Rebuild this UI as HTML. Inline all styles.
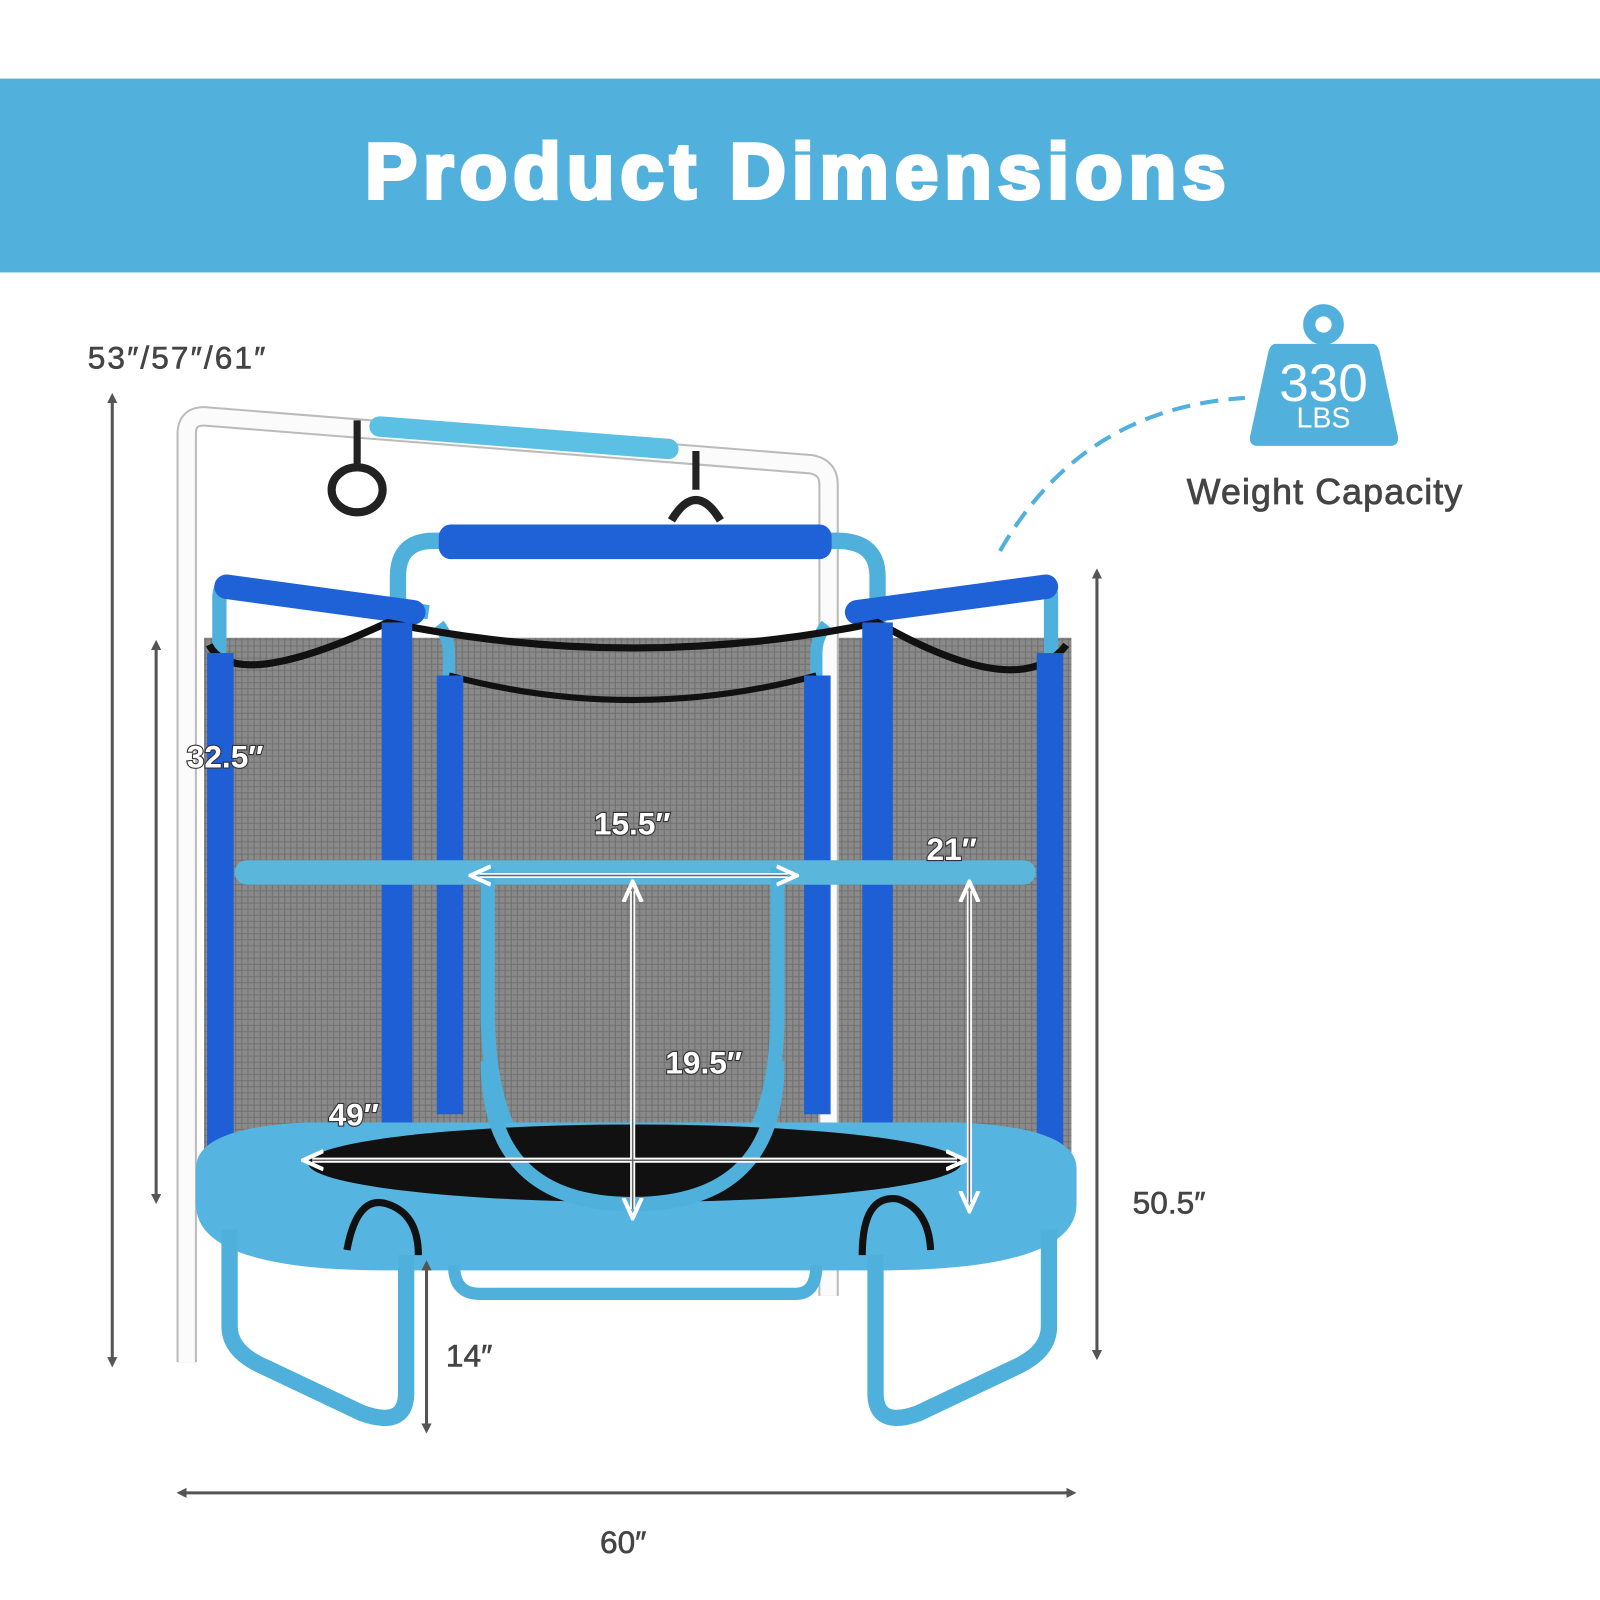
<!DOCTYPE html>
<html><head><style>
html,body{margin:0;padding:0;background:#fff;}
svg{display:block}
</style></head><body>
<svg width="1600" height="1600" viewBox="0 0 1568 1568" xmlns="http://www.w3.org/2000/svg" font-family="Liberation Sans, sans-serif">
<defs>
<marker id="a" markerWidth="10" markerHeight="10" refX="5" refY="5" orient="auto-start-reverse" markerUnits="userSpaceOnUse"><path d="M0,0 L10,5 L0,10 z" fill="#555"/></marker>
<marker id="w" markerWidth="22" markerHeight="22" refX="11" refY="11" orient="auto-start-reverse" markerUnits="userSpaceOnUse"><path d="M0,2 L20,11 L0,20" fill="none" stroke="#fff" stroke-width="4"/></marker>
<pattern id="net" width="6" height="6" patternUnits="userSpaceOnUse"><rect width="6" height="6" fill="#8a8a8a"/><path d="M0,3H6M3,0V6" stroke="#6f6f6f" stroke-width="1"/></pattern>
</defs>
<rect x="0" y="77" width="1568" height="190" fill="#52b0dc"/>
<text x="783" y="194" text-anchor="middle" font-size="76" font-weight="900" fill="#fff" letter-spacing="7" stroke="#fff" stroke-width="4" textLength="850" lengthAdjust="spacing">Product Dimensions</text>

<path d="M980,540 Q1060,400 1220,390" fill="none" stroke="#52b0dc" stroke-width="4" stroke-dasharray="18,10"/>
<circle cx="1297" cy="318" r="20" fill="#52b0dc"/><circle cx="1297" cy="318" r="8" fill="#fff"/>
<path d="M1250,337 H1345 Q1350,337 1352,345 L1370,428 Q1371,437 1362,437 H1233 Q1224,437 1225,428 L1243,345 Q1245,337 1250,337 z" fill="#52b0dc"/>
<text x="1297" y="393" text-anchor="middle" font-size="52" fill="#fff">330</text>
<text x="1297" y="419" text-anchor="middle" font-size="28" fill="#fff">LBS</text>
<text x="1298" y="494" text-anchor="middle" font-size="35" fill="#444" stroke="#444" stroke-width="0.8" textLength="270" lengthAdjust="spacing">Weight Capacity</text>

<rect x="200" y="625" width="850" height="515" fill="url(#net)"/>
<path d="M183,1335 V425 Q183,408 200,408 L795,455 Q812,458 812,475 V1270" fill="none" stroke="#bbb" stroke-width="20"/>
<path d="M183,1335 V425 Q183,408 200,408 L795,455 Q812,458 812,475 V1270" fill="none" stroke="#fbfbfb" stroke-width="16"/>
<path d="M372,418 L655,440" stroke="#5cc0e4" stroke-width="20" stroke-linecap="round"/>
<line x1="350" y1="412" x2="350" y2="455" stroke="#222" stroke-width="7"/>
<ellipse cx="350" cy="480" rx="25" ry="22" fill="none" stroke="#222" stroke-width="8"/>
<line x1="682" y1="442" x2="682" y2="480" stroke="#222" stroke-width="7"/>
<path d="M658,510 Q682,470 706,510" fill="none" stroke="#222" stroke-width="8"/>
<path d="M390,620 V565 Q390,530 425,530 H820 Q860,530 860,565 V620" fill="none" stroke="#4fb0dc" stroke-width="16"/>
<path d="M215,640 V585 Q215,570 232,572 L420,600 M1030,640 V585 Q1030,570 1013,572 L840,600" fill="none" stroke="#4fb0dc" stroke-width="14"/>
<path d="M440,665 V640 Q440,625 430,612 M800,665 V640 Q800,625 810,612" fill="none" stroke="#4fb0dc" stroke-width="12"/>
<rect x="430" y="514" width="385" height="34" rx="12" fill="#1f62d8"/>
<path d="M222,575 L405,600 M1025,575 L840,600" stroke="#1f62d8" stroke-width="24" stroke-linecap="round"/>
<path d="M205,632 Q230,680 380,610 Q620,660 860,610 Q1000,690 1045,632" fill="none" stroke="#111" stroke-width="7"/>
<path d="M440,662 Q620,710 800,662" fill="none" stroke="#111" stroke-width="6"/>
<g fill="#1f5fd6">
<rect x="203" y="640" width="26" height="500"/>
<rect x="374" y="610" width="30" height="560"/>
<rect x="428" y="662" width="26" height="430"/>
<rect x="788" y="662" width="26" height="430"/>
<rect x="845" y="610" width="30" height="560"/>
<rect x="1016" y="640" width="26" height="500"/>
</g>
<rect x="230" y="843" width="785" height="24" rx="12" fill="#5bb6dc"/>
<path d="M478,850 V990 Q478,1180 620,1180 Q762,1180 762,990 V850" fill="none" stroke="#4fb0dc" stroke-width="14"/>
<path d="M192,1145 Q192,1105 300,1100 H940 Q1055,1105 1055,1145 V1180 Q1055,1245 860,1245 H380 Q192,1245 192,1180 z" fill="#55b5e0"/>
<ellipse cx="622" cy="1140" rx="320" ry="38" fill="#111"/>
<path d="M478,1040 Q478,1180 620,1180 Q762,1180 762,1040" fill="none" stroke="#4fb0dc" stroke-width="14"/>
<path d="M225,1205 V1300 Q225,1325 260,1340 L355,1385 Q398,1400 398,1365 V1230" fill="none" stroke="#4fb0dc" stroke-width="16"/>
<path d="M1028,1205 V1300 Q1028,1325 995,1340 L900,1385 Q858,1400 858,1365 V1230" fill="none" stroke="#4fb0dc" stroke-width="16"/>
<path d="M445,1240 Q445,1268 470,1268 H780 Q800,1268 800,1240" fill="none" stroke="#4fb0dc" stroke-width="12"/>
<path d="M340,1225 Q350,1170 380,1180 Q410,1190 410,1230 M845,1230 Q845,1170 880,1175 Q910,1185 912,1225" fill="none" stroke="#111" stroke-width="7"/>
<g stroke="#fff" stroke-width="5" marker-start="url(#w)" marker-end="url(#w)">
<line x1="470" y1="858" x2="772" y2="858"/>
<line x1="620" y1="873" x2="620" y2="1185"/>
<line x1="950" y1="873" x2="950" y2="1178"/>
<line x1="306" y1="1137" x2="938" y2="1137"/>
</g>
<g stroke="#666" stroke-width="1.5" fill="none">
<line x1="470" y1="858" x2="772" y2="858"/>
<line x1="620" y1="873" x2="620" y2="1185"/>
<line x1="950" y1="873" x2="950" y2="1178"/>
<line x1="306" y1="1137" x2="938" y2="1137"/>
</g>
<g font-size="31" font-weight="bold" fill="#fff" stroke="#333" stroke-width="2.2" paint-order="stroke">
<text x="183" y="752">32.5″</text>
<text x="582" y="818">15.5″</text>
<text x="908" y="843">21″</text>
<text x="652" y="1052">19.5″</text>
<text x="322" y="1103">49″</text>
</g>
<g stroke="#555" stroke-width="3" marker-start="url(#a)" marker-end="url(#a)">
<line x1="110" y1="390" x2="110" y2="1335"/>
<line x1="153" y1="632" x2="153" y2="1175"/>
<line x1="1075" y1="562" x2="1075" y2="1328"/>
<line x1="418" y1="1240" x2="418" y2="1400"/>
<line x1="178" y1="1463" x2="1050" y2="1463"/>
</g>
<g font-size="31" fill="#444" stroke="#444" stroke-width="0.6">
<text x="86" y="361" textLength="174" lengthAdjust="spacing">53″/57″/61″</text>
<text x="1110" y="1189">50.5″</text>
<text x="437" y="1339">14″</text>
<text x="588" y="1522">60″</text>
</g>
</svg>
</body></html>
